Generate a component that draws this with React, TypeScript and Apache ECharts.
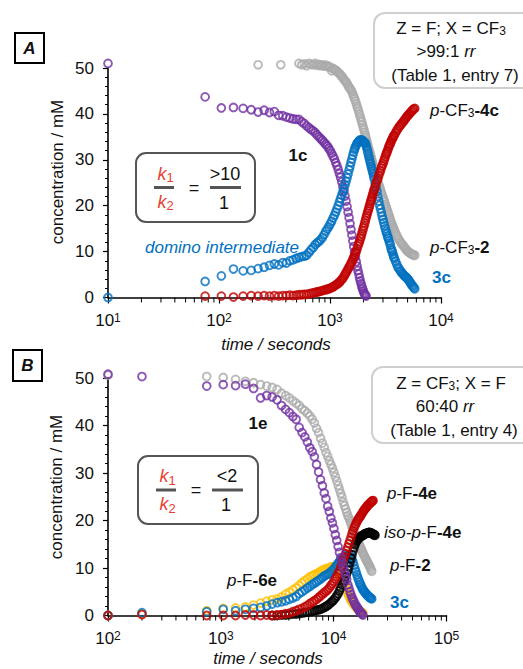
import React, { useEffect, useRef } from "react";
import * as echarts from "echarts";

const FONT = "'Liberation Sans', Arial, sans-serif";
const FS = 17;

// ---------- Panel A (Z = F; X = CF3) ----------
const a1c: number[][] = [[10,51.0],[75,43.7],[105,41.3],[135,41.4],[165,41.2],[195,40.9],[225,40.4],[255,40.8],[285,40.3],[315,40.5],[345,39.7],[375,39.6],[405,39.3],[435,39.1],[465,38.9],[495,38.8],[525,38.8],[555,38.3],[585,37.9],[615,37.4],[645,37.0],[675,36.6],[705,36.3],[735,35.9],[765,35.4],[795,35.0],[825,34.6],[855,34.2],[885,33.8],[915,33.4],[945,33.0],[975,32.5],[1005,32.0],[1035,31.4],[1065,30.8],[1095,30.2],[1125,29.4],[1155,28.7],[1185,27.9],[1215,27.0],[1245,26.2],[1275,25.2],[1305,24.2],[1335,23.2],[1365,22.1],[1395,21.0],[1425,19.8],[1455,18.6],[1485,17.4],[1515,16.1],[1545,14.8],[1575,13.6],[1605,12.3],[1635,11.1],[1665,9.9],[1695,8.8],[1725,7.8],[1755,6.8],[1785,5.9],[1815,5.1],[1845,4.3],[1875,3.6],[1905,3.0],[1935,2.4],[1965,1.9],[1995,1.4],[2025,1.0],[2055,0.7],[2085,0.5],[2115,0.3]];

const aDomino: number[][] = [[10,0],[75,3.5],[105,4.7],[135,6.2],[165,5.8],[195,5.9],[225,6.3],[255,6.6],[285,7.0],[315,7.3],[345,7.1],[375,7.6],[405,7.5],[435,8.0],[465,8.2],[495,8.5],[525,8.7],[555,8.9],[585,9.0],[615,9.2],[645,9.8],[675,10.4],[705,10.9],[735,11.5],[765,11.9],[795,12.2],[825,12.6],[855,13.1],[885,13.7],[915,14.4],[945,14.9],[975,15.4],[1005,16.0],[1035,16.6],[1065,17.3],[1095,17.9],[1125,18.6],[1155,19.3],[1185,20.0],[1215,20.8],[1245,21.6],[1275,22.3],[1305,23.0],[1335,23.7],[1365,24.5],[1395,25.3],[1425,26.1],[1455,26.9],[1485,27.8],[1515,28.6],[1545,29.4],[1575,30.2],[1605,31.0],[1635,31.7],[1665,32.3],[1695,32.8],[1725,33.2],[1755,33.6],[1785,33.8],[1815,34.0],[1845,34.2],[1875,34.3],[1905,34.3],[1935,34.3],[1965,34.2],[1995,34.0],[2025,33.9],[2055,33.7],[2085,33.6],[2115,33.1],[2145,32.6],[2175,32.0],[2205,31.4],[2235,30.8],[2265,30.2],[2295,29.6],[2325,29.1],[2355,28.5],[2385,28.0],[2415,27.5],[2445,27.0],[2475,26.4],[2505,25.8],[2550,24.9],[2600,24.0],[2650,23.1],[2700,22.0],[2750,21.0],[2800,20.1],[2850,19.3],[2900,18.5],[2950,17.7],[3000,17.0],[3050,16.3],[3100,15.6],[3150,15.0],[3200,14.4],[3250,13.9],[3300,13.3],[3350,12.9],[3400,12.4],[3450,11.9],[3500,11.4],[3550,10.7],[3600,10.3],[3650,9.9],[3700,9.4],[3750,8.9],[3800,8.5],[3900,7.9],[4000,7.2],[4100,6.6],[4200,6.2],[4300,5.8],[4400,5.5],[4500,5.2],[4600,4.9],[4700,4.7],[4800,4.5],[4900,4.3],[5000,4.1],[5100,3.8],[5200,3.5],[5300,3.2],[5400,2.9],[5500,2.6],[5600,2.4],[5700,2.1],[5800,1.9]];

const a4c: number[][] = [[75,0.3],[105,0.3],[135,0.1],[165,0.3],[195,0.4],[225,0.3],[255,0.4],[285,0.3],[315,0.4],[345,0.3],[375,0.4],[405,0.4],[435,0.5],[465,0.4],[495,0.5],[525,0.6],[555,0.6],[585,0.7],[615,0.7],[645,0.8],[675,0.9],[705,1.0],[735,1.1],[765,1.2],[795,1.3],[825,1.4],[855,1.5],[885,1.6],[915,1.7],[945,1.8],[975,1.9],[1005,2.0],[1035,2.2],[1065,2.3],[1095,2.5],[1125,2.7],[1155,2.9],[1185,3.1],[1215,3.3],[1245,3.6],[1275,3.9],[1305,4.2],[1335,4.6],[1365,5.0],[1395,5.4],[1425,5.8],[1455,6.2],[1485,6.6],[1515,7.0],[1545,7.4],[1575,7.8],[1605,8.3],[1635,8.7],[1665,9.2],[1695,9.7],[1725,10.1],[1755,10.6],[1785,11.2],[1815,11.7],[1845,12.2],[1875,12.8],[1905,13.3],[1935,13.9],[1965,14.5],[1995,15.1],[2025,15.6],[2055,16.2],[2085,16.8],[2115,17.4],[2145,17.9],[2175,18.4],[2205,18.9],[2235,19.4],[2265,19.9],[2295,20.4],[2325,20.9],[2355,21.3],[2385,21.8],[2415,22.3],[2445,22.7],[2475,23.2],[2505,23.6],[2550,24.2],[2600,24.8],[2650,25.4],[2700,25.9],[2750,26.5],[2800,27.1],[2850,27.6],[2900,28.2],[2950,28.7],[3000,29.2],[3050,29.7],[3100,30.2],[3150,30.7],[3200,31.2],[3250,31.6],[3300,32.0],[3350,32.5],[3400,32.9],[3450,33.3],[3500,33.6],[3550,34.0],[3600,34.3],[3650,34.6],[3700,34.9],[3750,35.2],[3800,35.4],[3900,35.9],[4000,36.4],[4100,36.8],[4200,37.2],[4300,37.5],[4400,37.8],[4500,38.1],[4600,38.4],[4700,38.7],[4800,39.0],[4900,39.3],[5000,39.6],[5100,39.8],[5200,40.0],[5300,40.3],[5400,40.5],[5500,40.7],[5600,40.9],[5700,41.1],[5800,41.2]];

const a2: number[][] = [[225,50.7],[360,50.7],[525,51.0],[555,50.7],[585,50.9],[615,50.5],[645,51.0],[675,50.8],[705,50.7],[735,51.0],[765,50.6],[795,50.8],[825,50.5],[855,50.7],[885,50.4],[915,50.6],[945,50.3],[975,50.4],[1005,50.1],[1035,49.4],[1065,49.9],[1095,49.7],[1125,49.5],[1155,49.3],[1185,49.0],[1215,48.8],[1245,48.5],[1275,48.2],[1305,47.9],[1335,47.5],[1365,47.2],[1395,47.0],[1425,46.6],[1455,46.2],[1485,45.8],[1515,45.5],[1545,45.2],[1575,44.8],[1605,44.3],[1635,43.8],[1665,43.3],[1695,42.8],[1725,42.2],[1755,41.6],[1785,41.1],[1815,40.5],[1845,39.9],[1875,39.3],[1905,38.7],[1935,38.2],[1965,37.6],[1995,37.0],[2025,36.5],[2055,35.9],[2085,35.3],[2115,34.7],[2145,34.1],[2175,33.5],[2205,32.9],[2235,32.4],[2265,31.9],[2295,31.4],[2325,30.9],[2355,30.4],[2385,29.9],[2415,29.4],[2445,28.9],[2475,28.4],[2505,27.9],[2550,27.3],[2600,26.6],[2650,25.9],[2700,25.2],[2750,24.6],[2800,24.1],[2850,23.5],[2900,22.9],[2950,22.4],[3000,21.8],[3050,21.3],[3100,20.8],[3150,20.3],[3200,19.8],[3250,19.3],[3300,18.8],[3350,18.3],[3400,17.9],[3450,17.4],[3500,16.9],[3550,16.4],[3600,16.0],[3650,15.7],[3700,15.3],[3750,15.0],[3800,14.6],[3900,14.1],[4000,13.5],[4100,13.0],[4200,12.5],[4300,12.1],[4400,11.8],[4500,11.5],[4600,11.2],[4700,10.9],[4800,10.6],[4900,10.3],[5000,10.1],[5100,9.9],[5200,9.8],[5300,9.6],[5400,9.5],[5500,9.4],[5600,9.3],[5700,9.2],[5800,9.2]];

// ---------- Panel B (Z = CF3; X = F) ----------
const b1e: number[][] = [[100,50.8],[200,50.3],[750,48.3],[1050,48.6],[1350,48.4],[1650,48.7],[1950,47.8],[2250,45.8],[2550,46.3],[2850,46.0],[3150,45.4],[3450,44.2],[3750,43.4],[4050,42.7],[4350,41.9],[4650,41.3],[4950,39.6],[5250,38.5],[5550,37.6],[5850,36.5],[6150,35.3],[6450,34.5],[6750,33.4],[7050,31.8],[7350,30.2],[7650,28.6],[7950,27.3],[8250,25.8],[8550,24.6],[8850,23.0],[9150,21.9],[9450,20.5],[9750,19.5],[10050,18.3],[10350,17.0],[10650,15.8],[10950,14.5],[11250,13.3],[11550,12.2],[11850,11.2],[12150,10.2],[12450,9.3],[12750,8.4],[13050,7.6],[13350,6.5],[13650,5.8],[13950,5.0],[14250,4.4],[14550,3.8],[14850,3.3],[15150,2.9],[15450,2.4],[15750,2.1],[16050,1.8],[16350,1.5],[16650,1.2],[16950,0.9],[17250,0.7],[17550,0.5],[17850,0.3],[18150,0.1]];

const b2: number[][] = [[100,50.6],[750,50.3],[1050,50.1],[1350,49.7],[1650,49.3],[1950,49.0],[2250,48.6],[2550,48.3],[2850,48.0],[3150,47.6],[3450,46.8],[3750,46.3],[4050,45.8],[4350,45.2],[4650,44.7],[4950,44.2],[5250,43.5],[5550,43.1],[5850,42.6],[6150,42.0],[6450,41.3],[6750,40.5],[7050,39.4],[7350,38.5],[7650,37.3],[7950,36.3],[8250,35.4],[8550,34.3],[8850,33.5],[9150,32.6],[9450,31.8],[9750,31.0],[10050,30.1],[10350,29.2],[10650,28.3],[10950,27.4],[11250,26.6],[11550,25.7],[11850,24.9],[12150,23.9],[12450,23.1],[12750,22.4],[13050,21.7],[13350,21.0],[13650,20.5],[13950,19.9],[14250,19.3],[14550,18.7],[14850,18.0],[15150,17.5],[15450,17.0],[15750,16.6],[16050,16.1],[16350,15.7],[16650,15.2],[16950,14.8],[17250,14.4],[17550,14.0],[17850,13.6],[18150,13.2],[18450,12.8],[18750,12.5],[19050,12.1],[19350,11.8],[19650,11.5],[19950,11.2],[20250,10.9],[20550,10.6],[20850,10.3],[21150,10.0],[21450,9.6],[21750,9.3]];

const b6e: number[][] = [[100,0.0],[200,0.3],[750,1.0],[1050,1.5],[1350,1.6],[1650,1.8],[1950,2.2],[2250,2.6],[2550,3.0],[2850,3.3],[3150,3.5],[3450,3.9],[3750,4.5],[4050,4.9],[4350,5.4],[4650,5.8],[4950,6.3],[5250,6.9],[5550,7.3],[5850,7.7],[6150,8.1],[6450,8.4],[6750,8.6],[7050,8.8],[7350,9.0],[7650,9.3],[7950,9.5],[8250,9.7],[8550,9.8],[8850,9.9],[9150,10.0],[9450,10.2],[9750,10.3],[10050,10.2],[10350,10.1],[10650,9.9],[10950,9.6],[11250,9.2],[11550,8.7],[11850,8.1],[12150,7.5],[12450,6.9],[12750,6.0],[13050,5.3],[13350,4.7],[13650,4.1],[13950,3.6],[14250,3.2],[14550,2.9],[14850,2.6],[15150,2.3],[15450,2.0],[15750,1.8],[16050,1.6],[16350,1.4],[16650,1.2],[16950,1.0],[17250,0.9],[17550,0.7],[17850,0.6],[18150,0.5]];

const b3c: number[][] = [[100,0.0],[200,0.6],[750,0.8],[1050,1.3],[1350,1.0],[1650,1.3],[1950,1.5],[2250,1.7],[2550,2.0],[2850,2.4],[3150,2.7],[3450,2.9],[3750,3.1],[4050,3.4],[4350,3.7],[4650,4.0],[4950,4.6],[5250,5.0],[5550,5.4],[5850,5.8],[6150,6.1],[6450,6.5],[6750,6.8],[7050,7.1],[7350,7.4],[7650,7.7],[7950,8.0],[8250,8.3],[8550,8.5],[8850,8.7],[9150,8.9],[9450,9.2],[9750,9.5],[10050,9.8],[10350,10.2],[10650,10.6],[10950,11.0],[11250,11.3],[11550,11.6],[11850,11.9],[12150,12.1],[12450,12.3],[12750,12.5],[13050,12.6],[13350,12.7],[13650,12.6],[13950,12.5],[14250,12.3],[14550,11.8],[14850,11.2],[15150,10.5],[15450,9.8],[15750,9.2],[16050,8.6],[16350,8.0],[16650,7.5],[16950,7.0],[17250,6.6],[17550,6.2],[17850,5.8],[18150,5.5],[18450,5.2],[18750,5.0],[19050,4.8],[19350,4.6],[19650,4.4],[19950,4.2],[20250,4.1],[20550,3.9],[20850,3.8],[21150,3.7],[21450,3.6],[21750,3.5]];

const bIso4e: number[][] = [[2850,0.0],[3150,0.0],[3450,0.1],[3750,0.1],[4050,0.2],[4350,0.3],[4650,0.3],[4950,0.4],[5250,0.5],[5550,0.6],[5850,0.7],[6150,0.8],[6450,0.9],[6750,1.0],[7050,1.1],[7350,1.2],[7650,1.3],[7950,1.5],[8250,1.7],[8550,1.9],[8850,2.1],[9150,2.4],[9450,2.7],[9750,3.0],[10050,3.3],[10350,3.7],[10650,4.1],[10950,4.6],[11250,5.2],[11550,5.8],[11850,6.4],[12150,6.9],[12450,7.4],[12750,8.2],[13050,8.9],[13350,9.5],[13650,10.3],[13950,11.2],[14250,12.0],[14550,12.8],[14850,13.6],[15150,14.3],[15450,14.9],[15750,15.4],[16050,15.8],[16350,16.0],[16650,16.2],[16950,16.4],[17250,16.6],[17550,16.7],[17850,16.8],[18150,16.9],[18450,17.0],[18750,17.1],[19050,17.2],[19350,17.3],[19650,17.3],[19950,17.4],[20250,17.4],[20550,17.5],[20850,17.5],[21150,17.4],[21450,17.4],[21750,17.3],[22050,17.2],[22350,17.1],[22650,17.0],[22950,17.0],[23250,16.9]];

const b4e: number[][] = [[100,0.0],[200,0.2],[750,0.0],[1050,0.0],[1350,0.0],[1650,0.1],[1950,0.1],[2250,0.0],[2550,0.1],[2850,0.0],[3150,0.1],[3450,0.2],[3750,0.4],[4050,0.5],[4350,0.8],[4650,1.0],[4950,1.3],[5250,1.5],[5550,1.8],[5850,2.1],[6150,2.5],[6450,2.8],[6750,3.1],[7050,3.4],[7350,3.8],[7650,4.1],[7950,4.5],[8250,4.8],[8550,5.1],[8850,5.4],[9150,5.8],[9450,6.3],[9750,6.7],[10050,7.2],[10350,7.7],[10650,8.2],[10950,8.8],[11250,9.4],[11550,10.2],[11850,11.2],[12150,11.9],[12450,12.4],[12750,13.0],[13050,13.7],[13350,14.4],[13650,15.1],[13950,15.8],[14250,16.5],[14550,17.2],[14850,17.8],[15150,18.4],[15450,18.9],[15750,19.3],[16050,19.7],[16350,20.1],[16650,20.4],[16950,20.7],[17250,20.9],[17550,21.2],[17850,21.5],[18150,21.8],[18450,22.0],[18750,22.3],[19050,22.5],[19350,22.7],[19650,22.9],[19950,23.1],[20250,23.3],[20550,23.4],[20850,23.6],[21150,23.7],[21450,23.9],[21750,24.0],[22050,24.1],[22350,24.2]];

// axis ranges and minor tick values
const xRangeA = [10, 10000];
const xRangeB = [100, 100000];
const yRange = [0, 50];
const minorTicksA = [20,30,40,50,60,70,80,90,200,300,400,500,600,700,800,900,2000,3000,4000,5000,6000,7000,8000,9000];
const minorTicksB = [200,300,400,500,600,700,800,900,2000,3000,4000,5000,6000,7000,8000,9000,20000,30000,40000,50000,60000,70000,80000,90000];

const C = {
  purple: "#7030A0",
  gray: "#AAAAAA",
  blue: "#0070C0",
  red: "#C00000",
  gold: "#FFC000",
  black: "#000000",
  kred: "#E8402F",
};

function scatter(data: number[][], color: string, idx: number) {
  return {
    type: "scatter",
    data,
    xAxisIndex: idx,
    yAxisIndex: idx,
    symbol: "circle",
    symbolSize: 7.8,
    clip: false,
    silent: true,
    itemStyle: { color: "rgba(0,0,0,0)", borderColor: color, borderWidth: 1.9 },
  };
}

function minorTicks(vals: number[], idx: number) {
  return {
    type: "custom",
    xAxisIndex: idx,
    yAxisIndex: idx,
    clip: false,
    silent: true,
    data: vals.map((v) => [v, 0]),
    renderItem: (_p: any, api: any) => {
      const p = api.coord([api.value(0), 0]);
      return {
        type: "line",
        shape: { x1: p[0], y1: p[1], x2: p[0], y2: p[1] + 5 },
        style: { stroke: "#000", lineWidth: 1 },
      };
    },
  };
}

function xAxis(range: number[], idx: number) {
  return {
    type: "log",
    logBase: 10,
    gridIndex: idx,
    min: range[0],
    max: range[1],
    axisLine: { onZero: false, lineStyle: { color: "#000", width: 1.6 } },
    axisTick: { show: true, length: 6, lineStyle: { color: "#000", width: 1.2 } },
    splitLine: { show: false },
    axisLabel: {
      margin: 14,
      formatter: (v: number) => `{b|10}{s|${Math.round(Math.log10(v))}}`,
      rich: {
        b: { fontSize: FS, fontFamily: FONT, color: "#111" },
        s: { fontSize: 12, fontFamily: FONT, color: "#111", verticalAlign: "top" },
      },
    },
  };
}

function yAxis(idx: number) {
  return {
    type: "value",
    gridIndex: idx,
    min: yRange[0],
    max: yRange[1],
    interval: 10,
    axisLine: { show: true, onZero: false, lineStyle: { color: "#000", width: 1.6 } },
    axisTick: { show: true, length: 5, lineStyle: { color: "#000", width: 1.2 } },
    minorTick: { show: true, splitNumber: 5, length: 3, lineStyle: { color: "#000", width: 1 } },
    splitLine: { show: false },
    axisLabel: { fontSize: FS, fontFamily: FONT, color: "#111", margin: 14 },
  };
}

function txt(x: number, y: number, text: string, extra: any = {}, rich?: any) {
  return {
    type: "text",
    x,
    y,
    silent: true,
    style: {
      text,
      fontSize: FS,
      fontFamily: FONT,
      fill: "#111",
      align: "center",
      verticalAlign: "middle",
      textAlign: "center",
      textVerticalAlign: "middle",
      rich,
      ...extra,
    },
  };
}

const subRich = {
  n: { fontSize: FS, fontFamily: FONT, color: "#111" },
  i: { fontSize: FS, fontFamily: FONT, fontStyle: "italic", color: "#111" },
  bd: { fontSize: FS, fontFamily: FONT, fontWeight: "bold", color: "#111" },
  s: { fontSize: 12, fontFamily: FONT, color: "#111", verticalAlign: "bottom" },
};

function kBox(x: number, y: number, w: number, h: number, num: string) {
  const cx1 = x + 28;
  const cy = y + h / 2;
  return [
    { type: "rect", shape: { x, y, width: w, height: h, r: 10 }, style: { fill: "#fff", stroke: "#555", lineWidth: 2 } },
    txt(cx1 - 2, cy - 14, "k", { fill: C.kred, fontStyle: "italic", fontSize: 18 }),
    txt(cx1 + 6, cy - 10, "1", { fill: C.kred, fontSize: 13 }),
    { type: "line", shape: { x1: cx1 - 10, y1: cy, x2: cx1 + 10, y2: cy }, style: { stroke: "#555", lineWidth: 3 } },
    txt(cx1 - 2, cy + 14, "k", { fill: C.kred, fontStyle: "italic", fontSize: 18 }),
    txt(cx1 + 6, cy + 18, "2", { fill: C.kred, fontSize: 13 }),
    txt(x + 58, cy, "=", { fontSize: 18 }),
    txt(x + 89, cy - 14, num, { fontSize: 18 }),
    { type: "line", shape: { x1: x + 74, y1: cy, x2: x + 105, y2: cy }, style: { stroke: "#555", lineWidth: 3 } },
    txt(x + 88, cy + 15, "1", { fontSize: 18 }),
  ];
}

export default function App() {
  const ref = useRef<HTMLDivElement>(null);
  useEffect(() => {
    if (!ref.current) return;
    const chart = echarts.init(ref.current, null, { renderer: "svg" });
    const yTitleA: any = txt(57, 172, "concentration / mM");
    yTitleA.rotation = Math.PI / 2;
    const yTitleB: any = txt(56, 487, "concentration / mM");
    yTitleB.rotation = Math.PI / 2;
    const option: any = {
      animation: false,
      backgroundColor: "#fff",
      grid: [
        { left: 108, top: 68, width: 333, height: 229.5 },
        { left: 108, top: 378, width: 338.5, height: 237.5 },
      ],
      xAxis: [xAxis(xRangeA, 0), xAxis(xRangeB, 1)],
      yAxis: [yAxis(0), yAxis(1)],
      series: [
        minorTicks(minorTicksA, 0),
        minorTicks(minorTicksB, 1),
        scatter(a2, C.gray, 0),
        scatter(a1c, C.purple, 0),
        scatter(aDomino, C.blue, 0),
        scatter(a4c, C.red, 0),
        scatter(b2, C.gray, 1),
        scatter(b6e, C.gold, 1),
        scatter(b3c, C.blue, 1),
        scatter(bIso4e, C.black, 1),
        scatter(b4e, C.red, 1),
        scatter(b1e, C.purple, 1),
      ],
      graphic: [
        // panel letters
        { type: "rect", shape: { x: 15, y: 33, width: 29, height: 30 }, style: { fill: "#fff", stroke: "#000", lineWidth: 2 } },
        txt(29.5, 48, "A", { fontWeight: "bold", fontStyle: "italic" }),
        { type: "rect", shape: { x: 13, y: 350, width: 29, height: 31 }, style: { fill: "#fff", stroke: "#000", lineWidth: 2 } },
        txt(27.5, 365.5, "B", { fontWeight: "bold", fontStyle: "italic" }),
        // axis titles
        yTitleA,
        txt(276, 344, "time / seconds", { fontStyle: "italic" }),
        yTitleB,
        txt(268, 658, "time / seconds", { fontStyle: "italic" }),
        // condition boxes
        { type: "rect", shape: { x: 374, y: 13, width: 170, height: 75, r: 11 }, style: { fill: "#fff", stroke: "#cfcfcf", lineWidth: 2 } },
        txt(451, 28, "{n|Z = F; X = CF}{s|3}", {}, subRich),
        txt(446, 51, "{n|>99:1 }{i|rr}", {}, subRich),
        txt(455, 75, "(Table 1, entry 7)"),
        { type: "rect", shape: { x: 372, y: 367, width: 172, height: 76, r: 11 }, style: { fill: "#fff", stroke: "#cfcfcf", lineWidth: 2 } },
        txt(451, 383, "{n|Z = CF}{s|3}{n|; X = F}", {}, subRich),
        txt(445, 406, "{n|60:40 }{i|rr}", {}, subRich),
        txt(454, 430, "(Table 1, entry 4)"),
        // k boxes
        ...kBox(136, 153, 119, 69, ">10"),
        ...kBox(138, 456, 120, 68, "<2"),
        // series labels panel A
        txt(298, 155, "1c", { fontWeight: "bold" }),
        txt(222, 247, "domino intermediate", { fontStyle: "italic", fill: C.blue }),
        txt(430, 110, "{i|p}{n|-CF}{s|3}{bd|-4c}", { align: "left", textAlign: "left" }, subRich),
        txt(430, 247, "{i|p}{n|-CF}{s|3}{bd|-2}", { align: "left", textAlign: "left" }, subRich),
        txt(432, 277, "3c", { fontWeight: "bold", fill: C.blue, align: "left", textAlign: "left" }),
        // series labels panel B
        txt(258, 423, "1e", { fontWeight: "bold" }),
        txt(227, 580, "{i|p}{n|-F}{bd|-6e}", { align: "left", textAlign: "left" }, subRich),
        txt(387, 493, "{i|p}{n|-F}{bd|-4e}", { align: "left", textAlign: "left" }, subRich),
        txt(384, 532, "{i|iso-p}{n|-F}{bd|-4e}", { align: "left", textAlign: "left" }, subRich),
        txt(390, 565, "{i|p}{n|-F}{bd|-2}", { align: "left", textAlign: "left" }, subRich),
        txt(390, 602, "3c", { fontWeight: "bold", fill: C.blue, align: "left", textAlign: "left" }),
      ],
    };
    chart.setOption(option);
    return () => chart.dispose();
  }, []);
  return (
    <div
      ref={ref}
      style={{ position: "fixed", left: 0, top: 0, width: 523, height: 669, background: "#fff" }}
    />
  );
}
